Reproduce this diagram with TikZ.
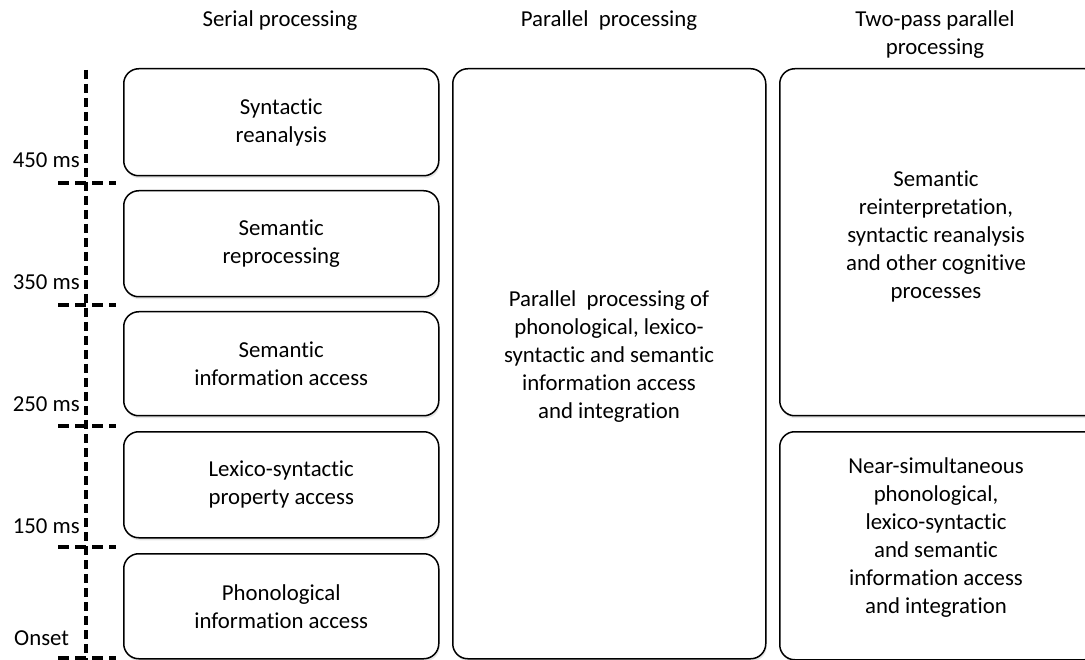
\documentclass[tikz,border=0pt]{standalone}
\usepackage{fontspec}
\setmainfont[Ligatures={NoCommon}]{Carlito}
\usetikzlibrary{shadows}
\begin{document}
\begin{tikzpicture}[x=1pt,y=-1pt,
  txt/.style={font=\fontsize{22.8}{28}\selectfont, align=center, inner sep=0pt},
  box/.style={txt, draw=black, line width=1.5pt, rounded corners=15pt, fill=white,
    anchor=north west, drop shadow={opacity=0.2, shadow xshift=1pt, shadow yshift=-2.5pt}},
  axisline/.style={line width=3.6pt, dash pattern=on 9pt off 5pt},
  tickline/.style={line width=4pt, dash pattern=on 11pt off 6pt},
  lab/.style={txt, anchor=base east}]
\path[use as bounding box, clip] (0,0) rectangle (1085,660);
\fill[white] (0,0) rectangle (1085,660);
% headers
\node[txt] (h1) at (280,21) {Serial processing};
\node[txt] (h2) at (609,21) {Parallel\ \ processing};
\node[txt] (h3) at (935,35) {Two-pass parallel\\processing};
% serial boxes
\node[box, minimum width=315pt, minimum height=107pt] (s1) at (123,68) {Syntactic\\reanalysis};
\node[box, minimum width=315pt, minimum height=106pt] (s2) at (123,190) {Semantic\\reprocessing};
\node[box, minimum width=315pt, minimum height=104pt] (s3) at (123,311) {Semantic\\information access};
\node[box, minimum width=315pt, minimum height=106pt] (s4) at (123,431) {Lexico-syntactic\\property access};
\node[box, minimum width=315pt, minimum height=105pt] (s5) at (123,553) {Phonological\\information access};
% parallel
\node[box, minimum width=313pt, minimum height=590pt] (p) at (452,68) {};
\node[txt] (pt) at (609,357) {Parallel\ \ processing of\\phonological, lexico-\\syntactic and semantic\\information access\\and integration};
% two-pass
\node[box, minimum width=320pt, minimum height=347pt] (t1) at (779,68) {};
\node[txt] (t1t) at (936,236) {Semantic\\reinterpretation,\\syntactic reanalysis\\and other cognitive\\processes};
\node[box, minimum width=320pt, minimum height=228pt] (t2) at (779,431) {};
\node[txt] (t2t) at (936,538) {Near-simultaneous\\phonological,\\lexico-syntactic\\and semantic\\information access\\and integration};
% time axis
\coordinate (atop) at (86,70);
\coordinate (abot) at (86,662);
\draw[axisline] (atop) -- (abot);
\foreach \y/\n in {183/1,305/2,426/3,547/4,658/5}{
  \coordinate (tl\n) at (58,\y);
  \coordinate (tr\n) at (116,\y);
  \draw[tickline] (tl\n) -- (tr\n);
}
\node[lab] (l450) at (80,168) {450 ms};
\node[lab] (l350) at (80,290) {350 ms};
\node[lab] (l250) at (80,412) {250 ms};
\node[lab] (l150) at (80,533) {150 ms};
\node[txt, anchor=base west] (lon) at (14,645) {Onset};
\end{tikzpicture}
\end{document}
